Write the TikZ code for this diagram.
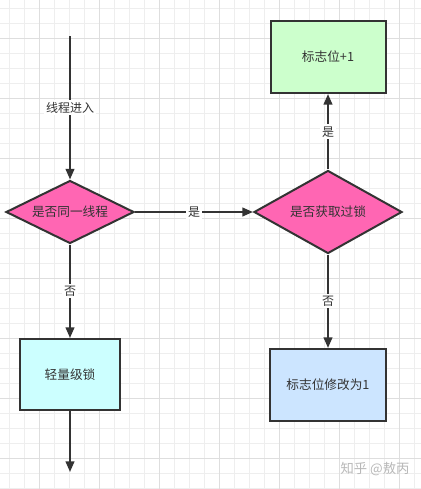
\documentclass[tikz,border=0pt]{standalone}
\usepackage{fontspec}
\setmainfont{Noto Sans CJK SC}
\usetikzlibrary{shapes.geometric,arrows.meta,positioning}

\definecolor{linegray}{HTML}{333333}
\definecolor{gridminor}{HTML}{EEEEEE}
\definecolor{gridmajor}{HTML}{DEDEDE}
\definecolor{decisionpink}{HTML}{FF66B3}
\definecolor{boxgreen}{HTML}{CCFFCC}
\definecolor{boxcyan}{HTML}{CCFFFF}
\definecolor{boxblue}{HTML}{CCE5FF}

\begin{document}
\begin{tikzpicture}[
    x=0.75pt, y=-0.75pt,
    box/.style={rectangle, draw=linegray, line width=1.5pt, align=center, text=linegray, font=\fontsize{9.5}{11}\selectfont},
    decision/.style={diamond, aspect=2, draw=linegray, line width=1.5pt, fill=decisionpink, inner sep=0pt, align=center, text=linegray, font=\fontsize{9.5}{11}\selectfont},
    arrow/.style={-{Triangle[length=8pt, width=6.5pt]}, draw=linegray, line width=1.5pt},
    edgelabel/.style={fill=white, inner sep=1.5pt, text=linegray, font=\fontsize{9}{10}\selectfont},
    gridline/.style={gridminor, line width=0.6pt},
    gridbold/.style={gridmajor, line width=0.6pt},
    watermark/.style={text=black!28, font=\fontsize{10}{12}\selectfont}
]

\useasboundingbox (0,0) rectangle (421,489);
\fill[white] (0,0) rectangle (421,489);

% background grid
\foreach \gx in {9.3,24.3,...,420} {\draw[gridline] (\gx,0) -- (\gx,489);}
\foreach \gy in {8.3,23.3,...,489} {\draw[gridline] (0,\gy) -- (421,\gy);}
\foreach \gx in {39.3,99.3,...,420} {\draw[gridbold] (\gx,0) -- (\gx,489);}
\foreach \gy in {38.3,98.3,...,489} {\draw[gridbold] (0,\gy) -- (421,\gy);}

% left column
\coordinate (start) at (70,36);
\node[decision, minimum width=96pt, minimum height=47.25pt] (sameThread) at (70,212) {是否同一线程};
\node[box, fill=boxcyan, minimum width=75pt, minimum height=53.25pt] (lightLock) at (70,374.5) {轻量级锁};
\coordinate (end) at (70,472);

% right column
\node[decision, minimum width=111pt, minimum height=62.25pt] (gotLock) at (328,212) {是否获取过锁};
\node[box, fill=boxgreen, minimum width=86.25pt, minimum height=54pt] (flagInc) at (328,57) {标志位+1};
\node[box, fill=boxblue, minimum width=87pt, minimum height=54pt] (flagSet) at (328,385) {标志位修改为1};

% connectors
\draw[arrow] (start) -- node[edgelabel] {线程进入} (sameThread);
\draw[arrow] (sameThread) -- node[edgelabel] {是} (gotLock);
\draw[arrow] (gotLock) -- node[edgelabel] {是} (flagInc);
\draw[arrow] (sameThread) -- node[edgelabel] {否} (lightLock);
\draw[arrow] (gotLock) -- node[edgelabel] {否} (flagSet);
\draw[arrow] (lightLock) -- (end);

% watermark
\node[watermark] (mark) at (375,469) {知乎 @敖丙};

\end{tikzpicture}
\end{document}
